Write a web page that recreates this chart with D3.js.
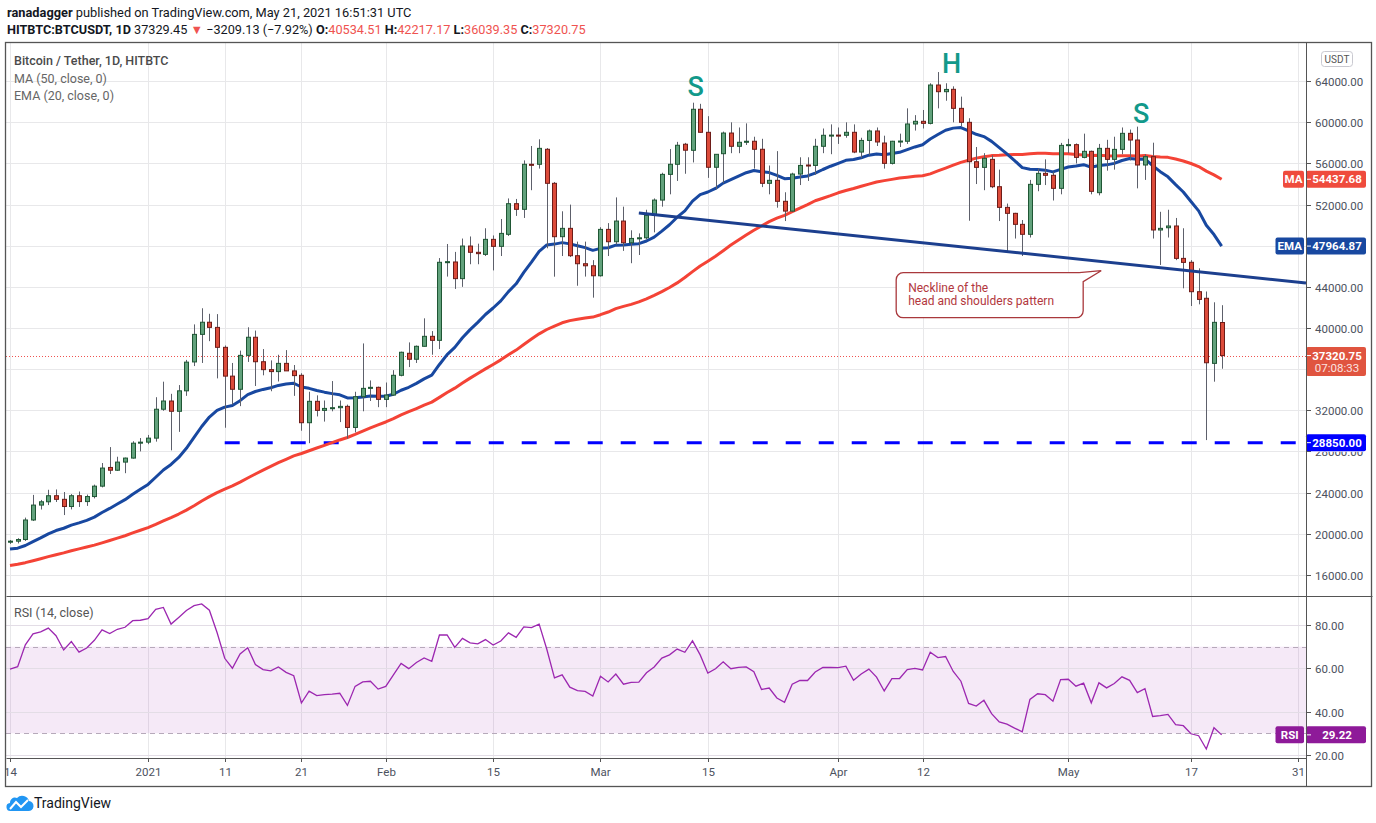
<!DOCTYPE html>
<html lang="en">

<head>
  <meta charset="utf-8">
  <title>Bitcoin / Tether, 1D, HITBTC</title>
  <script src="https://d3js.org/d3.v7.min.js"></script>
  <style>
    body { margin: 0; background: #ffffff; }
    svg text { font-family: Roboto, "Open Sans", sans-serif; }
  </style>
</head>

<body>
  <script type="text/javascript">
    // daily candles HITBTC:BTCUSDT, first candle 14 Dec 2020, last 21 May 2021
    var startDate = new Date(Date.UTC(2020, 11, 14));

    var opens = [
      19170, 19270, 19430, 21330, 22780, 23100, 23690, 23340, 22640, 23690,
      23120, 23610, 24620, 26440, 26170, 26960, 27350, 28800, 28900, 29290,
      32100, 32900, 31900, 33890, 36700, 39380, 40560, 40060, 38120, 35320,
      34040, 37340, 39100, 36720, 35950, 35760, 36560, 35830, 35400, 30790,
      32870, 31990, 32180, 32250, 32380, 30330, 33320, 34130, 34230, 33060,
      33480, 35400, 37540, 36960, 38220, 39190, 38800, 46390, 46420, 44800,
      47970, 47360, 47160, 48620, 47940, 49110, 52090, 51540, 55920, 55920,
      57380, 54070, 48880, 49690, 47030, 46250, 46050, 45080, 49590, 48390,
      50400, 48290, 48710, 48770, 50950, 52440, 54940, 55920, 57870, 57280,
      61270, 59030, 55630, 56950, 58960, 57670, 58060, 58160, 57380, 54070,
      54360, 52320, 51370, 54970, 55850, 55810, 57670, 58740, 58760, 58740,
      59030, 57110, 58240, 59160, 57990, 56010, 58160, 58160, 59840, 60100,
      59900, 63630, 62980, 63210, 61360, 60000, 56170, 55620, 56400, 53740,
      51730, 51150, 50080, 49110, 53970, 55040, 54850, 53580, 57760, 57830,
      56590, 57180, 53160, 57470, 56400, 57370, 58930, 58280, 55850, 56660,
      49530, 49750, 49920, 46770, 46390, 43530, 42890, 36560, 40534.51
    ];

    var highs = [
      19380, 19560, 21560, 23770, 23280, 24270, 24300, 24050, 23850, 24100,
      23800, 24770, 26870, 28420, 27480, 27400, 28990, 29300, 29600, 33270,
      34780, 33600, 34450, 36900, 40350, 41920, 41380, 41350, 38300, 36600,
      37800, 40070, 39750, 37950, 36850, 37400, 37850, 36400, 35600, 33800,
      33450, 32950, 34840, 32950, 32550, 33800, 38500, 34900, 34300, 34700,
      35900, 37700, 38600, 38300, 40940, 39700, 46800, 48170, 47400, 48700,
      48900, 48200, 49700, 49000, 50600, 52600, 52550, 56300, 57700, 58350,
      57500, 54200, 51350, 52000, 48400, 48400, 46600, 49800, 50200, 52700,
      51800, 49500, 49200, 51500, 52600, 55100, 57400, 58100, 58000, 61910,
      61800, 60600, 56900, 59100, 60000, 59500, 59900, 58600, 58400, 55800,
      57200, 53200, 55100, 56600, 56600, 58400, 59400, 59800, 59500, 60000,
      59800, 58500, 59300, 59500, 58700, 58200, 58900, 61360, 60700, 61200,
      63800, 64890, 63800, 63500, 62500, 60400, 57600, 57000, 56800, 55400,
      52100, 51200, 50500, 54400, 55500, 56400, 55200, 58000, 58400, 57950,
      58900, 57250, 57900, 58300, 58600, 59500, 59300, 59580, 56900, 58020,
      51300, 51500, 50700, 49700, 46600, 45800, 43550, 42500, 42217.17
    ];

    var lows = [
      19000, 19050, 19290, 21230, 22350, 22780, 23080, 21810, 22360, 22600,
      22700, 23430, 24500, 25800, 26100, 25880, 27300, 28000, 28700, 28950,
      31950, 28100, 29900, 33400, 36300, 36600, 38720, 35100, 30300, 32560,
      32400, 36700, 34360, 35400, 33850, 34800, 35900, 33400, 30010, 28800,
      31400, 30900, 31900, 30850, 29250, 29850, 31900, 32900, 32300, 32300,
      33400, 35300, 36200, 36600, 38200, 37400, 37950, 45000, 43800, 44000,
      46200, 46200, 47000, 45600, 47000, 48950, 50900, 50700, 53400, 55500,
      47750, 44990, 47000, 46900, 44110, 45000, 42950, 45000, 47000, 48100,
      47500, 46300, 47100, 48600, 49300, 51800, 53000, 54300, 55000, 56100,
      59000, 54600, 53500, 54100, 57000, 57000, 57800, 55500, 53700, 53000,
      51700, 50400, 51300, 53900, 54300, 54900, 57000, 56900, 57900, 58500,
      57000, 56500, 56800, 57700, 55500, 55900, 57600, 57900, 59200, 59400,
      59800, 61360, 62100, 60000, 59600, 50430, 54000, 53400, 53600, 50400,
      47420, 48700, 47000, 48800, 53300, 53900, 52400, 53000, 57000, 56000,
      56500, 53000, 52900, 55300, 55400, 56900, 56300, 53580, 54400, 48700,
      46130, 48800, 46600, 43860, 42140, 42300, 29100, 34780, 36039.35
    ];

    var closes = [
      19270, 19430, 21330, 22780, 23100, 23690, 23340, 22640, 23690, 23120,
      23610, 24620, 26380, 26170, 26960, 27350, 28800, 28900, 29290, 32100,
      32900, 31900, 33890, 36680, 39380, 40560, 40060, 38120, 35320, 34040,
      37340, 39100, 36720, 35950, 35760, 36560, 35830, 35370, 30790, 32870,
      31990, 32180, 32250, 32380, 30330, 33320, 34130, 34230, 33060, 33480,
      35400, 37640, 36960, 38220, 39190, 38800, 46390, 46450, 44800, 47970,
      47360, 47230, 48620, 47940, 49200, 52090, 51540, 55920, 55820, 57470,
      54070, 48880, 49690, 47030, 46250, 46050, 45080, 49590, 48390, 50400,
      48290, 48710, 48770, 50950, 52440, 54940, 55920, 57770, 57290, 61270,
      59030, 55630, 56890, 58960, 57670, 58060, 58160, 57380, 54070, 54360,
      52320, 51370, 54970, 55810, 55810, 57670, 58740, 58760, 58740, 59030,
      57110, 58240, 59160, 58090, 56010, 58160, 58180, 59840, 60100, 59900,
      63630, 62980, 63200, 61360, 60000, 56170, 55620, 56500, 53740, 51730,
      51150, 50080, 49110, 53970, 55040, 54850, 53580, 57760, 57830, 56590,
      57180, 53290, 57470, 56400, 57370, 58930, 58280, 55850, 56660, 49530,
      49690, 49920, 46770, 46380, 43530, 42780, 36620, 40550, 37320.75
    ];

    // closes 26 Oct - 13 Dec 2020 (left of the window), only warm up MA / EMA / RSI
    var priorCloses = [
      13070, 13650, 13280, 13460, 13560, 13800, 13760, 13550, 14030, 14150,
      15590, 15580, 14830, 15480, 15330, 15300, 15700, 16290, 16330, 16070,
      15960, 16720, 17650, 17800, 17820, 18680, 18700, 18420, 18370, 19160,
      18720, 17150, 17140, 17720, 18180, 19700, 18790, 19220, 19450, 18700,
      19150, 19370, 19170, 18320, 18550, 18250, 18040, 18800, 19170
    ];

    // readouts printed by the chart on the price scale
    var maReadout = "54437.68";
    var emaReadout = "47964.87";
    var rsiReadout = "29.22";
    var countdown = "07:08:33";

    // axis ticks
    var priceTicks = [16000, 20000, 24000, 28000, 32000, 36000, 40000, 44000,
      48000, 52000, 56000, 60000, 64000];
    var rsiTicks = [20, 40, 60, 80];
    var dateTicks = ["2020-12-14", "2021-01-01", "2021-01-11", "2021-01-21",
      "2021-02-01", "2021-02-15", "2021-03-01", "2021-03-15", "2021-04-01",
      "2021-04-12", "2021-05-01", "2021-05-17", "2021-05-31"];
    var dateTickLabels = ["14", "2021", "11", "21", "Feb", "15", "Mar", "15",
      "Apr", "12", "May", "17", "31"];

    // drawings on the chart
    var patternLabels = ["S", "H", "S"];
    var patternDates = ["2021-03-13T10:00Z", "2021-04-15T19:00Z", "2021-05-10T12:00Z"];
    var patternPrices = [62560, 64800, 59930];
    var necklineDates = ["2021-03-06", "2021-06-01"];
    var necklinePrices = [51180, 44380];
    var supportStart = "2021-01-11";
    var supportLevel = 28850;
    var noteDate = "2021-05-05T07:00Z";
    var notePrice = 45570;
    var noteLines = ["Neckline of the", "head and shoulders pattern"];

    // layout
    var dim = {
      "width": 1376,
      "height": 823,
      "left": 6,
      "top": 42,
      "plotRight": 1306,
      "right": 1372,
      "mainBottom": 596,
      "rsiBottom": 758,
      "bottom": 786
    };

    var parse = function(s) { return new Date(s.length == 10 ? s + "T00:00Z" : s); };
    var dates = d3.range(closes.length).map(function(i) {
      return d3.utcDay.offset(startDate, i);
    });

    // indicators: MA(50), EMA(20), RSI(14) on closes
    var allCloses = priorCloses.concat(closes);
    var offset = priorCloses.length;

    var ma = closes.map(function(c, i) {
      var k = i + offset;
      return d3.mean(allCloses.slice(k - 49, k + 1));
    });

    var emaAll = [];
    var alpha = 2 / 21;
    allCloses.forEach(function(c, k) {
      if (k < 19) { emaAll.push(null); }
      else if (k == 19) { emaAll.push(d3.mean(allCloses.slice(0, 20))); }
      else { emaAll.push(alpha * c + (1 - alpha) * emaAll[k - 1]); }
    });
    var ema = emaAll.slice(offset);

    var rsiAll = [null];
    var avgGain = 0, avgLoss = 0;
    for (var k = 1; k < allCloses.length; k++) {
      var ch = allCloses[k] - allCloses[k - 1];
      var g = Math.max(ch, 0), l = Math.max(-ch, 0);
      if (k <= 14) {
        avgGain += g / 14; avgLoss += l / 14;
        rsiAll.push(k == 14 ? 100 - 100 / (1 + avgGain / avgLoss) : null);
      } else {
        avgGain = (avgGain * 13 + g) / 14;
        avgLoss = (avgLoss * 13 + l) / 14;
        rsiAll.push(100 - 100 / (1 + avgGain / avgLoss));
      }
    }
    var rsi = rsiAll.slice(offset);

    // scales
    var xScale = d3.scaleUtc()
      .domain([startDate, parse("2021-06-01")])
      .range([10, dim.plotRight]);

    var yScale = d3.scaleLinear()
      .domain([16000, 64000])
      .range([574.8, 81.2]);

    var rsiScale = d3.scaleLinear()
      .domain([20, 80])
      .range([755, 625]);

    var svg = d3.select("body")
      .append("svg")
      .attr("width", dim.width)
      .attr("height", dim.height);

    var defs = svg.append("defs");
    defs.append("clipPath").attr("id", "clipMain")
      .append("rect")
      .attr("x", dim.left).attr("y", dim.top)
      .attr("width", dim.plotRight - dim.left)
      .attr("height", dim.mainBottom - dim.top);
    defs.append("clipPath").attr("id", "clipRsi")
      .append("rect")
      .attr("x", dim.left).attr("y", dim.mainBottom)
      .attr("width", dim.plotRight - dim.left)
      .attr("height", dim.rsiBottom - dim.mainBottom);

    // header
    var head1 = svg.append("text")
      .attr("x", 7).attr("y", 17)
      .style("font-size", "12.8px")
      .attr("fill", "#131722");
    head1.append("tspan").style("font-weight", "bold").text("ranadagger");
    head1.append("tspan").text(" published on TradingView.com, May 21, 2021 16:51:31 UTC");

    var head2 = svg.append("text")
      .attr("x", 7).attr("y", 34)
      .style("font-size", "12.7px")
      .attr("fill", "#131722");
    head2.append("tspan").style("font-weight", "bold").text("HITBTC:BTCUSDT, 1D");
    head2.append("tspan").text(" 37329.45 ");
    head2.append("tspan").attr("fill", "#ef5350").text("\u25BC");
    head2.append("tspan").text(" \u22123209.13 (\u22127.92%) ");
    [["O:", "40534.51"], ["H:", "42217.17"], ["L:", "36039.35"], ["C:", "37320.75"]]
      .forEach(function(p, i) {
        head2.append("tspan").style("font-weight", "bold").text((i ? " " : "") + p[0]);
        head2.append("tspan").attr("fill", "#ef5350").text(p[1]);
      });

    // grid
    var grid = svg.append("g").attr("class", "grid");
    grid.selectAll("line.h")
      .data(priceTicks)
      .enter()
      .append("line")
      .attr("x1", dim.left).attr("x2", dim.plotRight)
      .attr("y1", function(d) { return Math.round(yScale(d)) + 0.5; })
      .attr("y2", function(d) { return Math.round(yScale(d)) + 0.5; })
      .attr("stroke", "#e8e8ea");
    grid.selectAll("line.v")
      .data(dateTicks)
      .enter()
      .append("line")
      .attr("x1", function(d) { return Math.round(xScale(parse(d))) + 0.5; })
      .attr("x2", function(d) { return Math.round(xScale(parse(d))) + 0.5; })
      .attr("y1", dim.top).attr("y2", dim.rsiBottom)
      .attr("stroke", "#e8e8ea");

    // rsi band and grid
    svg.append("rect")
      .attr("x", dim.left).attr("width", dim.plotRight - dim.left)
      .attr("y", rsiScale(70)).attr("height", rsiScale(30) - rsiScale(70))
      .attr("fill", "#9c27b0").attr("fill-opacity", 0.1);
    svg.selectAll("line.rsigrid")
      .data(rsiTicks)
      .enter()
      .append("line")
      .attr("x1", dim.left).attr("x2", dim.plotRight)
      .attr("y1", function(d) { return Math.round(rsiScale(d)) + 0.5; })
      .attr("y2", function(d) { return Math.round(rsiScale(d)) + 0.5; })
      .attr("stroke", "#e3dde6");
    svg.selectAll("line.rsiband")
      .data([30, 70])
      .enter()
      .append("line")
      .attr("x1", dim.left).attr("x2", dim.plotRight)
      .attr("y1", function(d) { return Math.round(rsiScale(d)) + 0.5; })
      .attr("y2", function(d) { return Math.round(rsiScale(d)) + 0.5; })
      .attr("stroke", "#b6a9ba")
      .attr("stroke-dasharray", "5,4");

    var main = svg.append("g").attr("clip-path", "url(#clipMain)");

    // current price dotted line
    main.append("line")
      .attr("x1", dim.left).attr("x2", dim.plotRight)
      .attr("y1", Math.round(yScale(closes[closes.length - 1])) + 0.5)
      .attr("y2", Math.round(yScale(closes[closes.length - 1])) + 0.5)
      .attr("stroke", "#ef5350")
      .attr("stroke-dasharray", "1,2");

    // support level 28850
    main.append("line")
      .attr("x1", xScale(parse(supportStart))).attr("x2", dim.plotRight)
      .attr("y1", yScale(supportLevel)).attr("y2", yScale(supportLevel))
      .attr("stroke", "#0000ff")
      .attr("stroke-width", 3)
      .attr("stroke-dasharray", "15,18");

    // moving averages
    var maLine = d3.line()
      .x(function(d, i) { return xScale(dates[i]); })
      .y(function(d) { return yScale(d); });

    main.append("path")
      .datum(ma)
      .attr("d", maLine)
      .attr("fill", "none")
      .attr("stroke", "#f44336")
      .attr("stroke-width", 3)
      .attr("stroke-linejoin", "round");

    main.append("path")
      .datum(ema)
      .attr("d", maLine)
      .attr("fill", "none")
      .attr("stroke", "#1848a0")
      .attr("stroke-width", 3)
      .attr("stroke-linejoin", "round");

    // candles
    var candles = main.selectAll("g.candle")
      .data(closes)
      .enter()
      .append("g")
      .attr("class", "candle");

    candles.append("line")
      .attr("x1", function(d, i) { return Math.round(xScale(dates[i])) + 0.5; })
      .attr("x2", function(d, i) { return Math.round(xScale(dates[i])) + 0.5; })
      .attr("y1", function(d, i) { return yScale(highs[i]); })
      .attr("y2", function(d, i) { return yScale(lows[i]); })
      .attr("stroke", "#5d606b");

    candles.append("rect")
      .attr("x", function(d, i) { return Math.round(xScale(dates[i])) - 1.5; })
      .attr("width", 4)
      .attr("y", function(d, i) { return yScale(Math.max(opens[i], d)); })
      .attr("height", function(d, i) {
        return Math.max(1, Math.abs(yScale(opens[i]) - yScale(d)));
      })
      .attr("fill", function(d, i) { return d >= opens[i] ? "#62a27c" : "#dc4b3a"; })
      .attr("stroke", function(d, i) { return d >= opens[i] ? "#1f5634" : "#6e1c18"; })
      .attr("stroke-width", 1);

    // neckline
    main.append("line")
      .attr("x1", xScale(parse(necklineDates[0])))
      .attr("y1", yScale(necklinePrices[0]))
      .attr("x2", xScale(parse(necklineDates[1])))
      .attr("y2", yScale(necklinePrices[1]))
      .attr("stroke", "#1c3f8e")
      .attr("stroke-width", 3);

    // S H S labels
    main.selectAll("text.pattern")
      .data(patternLabels)
      .enter()
      .append("text")
      .attr("x", function(d, i) { return xScale(parse(patternDates[i])); })
      .attr("y", function(d, i) { return yScale(patternPrices[i]); })
      .attr("text-anchor", "middle")
      .style("font-size", "27px")
      .style("font-weight", "500")
      .attr("fill", "#12998a")
      .text(function(d) { return d; });

    // callout for the neckline
    var tipX = xScale(parse(noteDate)), tipY = yScale(notePrice);
    var bx0 = tipX - 205, bx1 = tipX - 18, by0 = tipY + 2, by1 = tipY + 47, r = 7;
    var callout = d3.path();
    callout.moveTo(bx0 + r, by0);
    callout.lineTo(bx1 - 4, by0);
    callout.lineTo(tipX, tipY);
    callout.lineTo(bx1, by0 + 9);
    callout.lineTo(bx1, by1 - r);
    callout.arcTo(bx1, by1, bx1 - r, by1, r);
    callout.lineTo(bx0 + r, by1);
    callout.arcTo(bx0, by1, bx0, by1 - r, r);
    callout.lineTo(bx0, by0 + r);
    callout.arcTo(bx0, by0, bx0 + r, by0, r);
    callout.closePath();
    main.append("path")
      .attr("d", callout.toString())
      .attr("fill", "#ffffff")
      .attr("stroke", "#a9383c")
      .attr("stroke-width", 1.3);
    main.selectAll("text.note")
      .data(noteLines)
      .enter()
      .append("text")
      .attr("x", bx0 + 12)
      .attr("y", function(d, i) { return by0 + 19 + i * 13; })
      .style("font-size", "12px")
      .attr("fill", "#b2373d")
      .text(function(d) { return d; });

    // rsi line
    svg.append("path")
      .datum(rsi)
      .attr("clip-path", "url(#clipRsi)")
      .attr("d", d3.line()
        .x(function(d, i) { return xScale(dates[i]); })
        .y(function(d) { return rsiScale(d); }))
      .attr("fill", "none")
      .attr("stroke", "#9c27b0")
      .attr("stroke-width", 1.3);

    // legends
    var legend = [
      ["Bitcoin / Tether, 1D, HITBTC", 65, "#4a4a4a"],
      ["MA (50, close, 0)", 83, "#666666"],
      ["EMA (20, close, 0)", 100, "#666666"],
      ["RSI (14, close)", 617, "#555555"]
    ];
    svg.selectAll("text.legend")
      .data(legend)
      .enter()
      .append("text")
      .attr("x", 14)
      .attr("y", function(d) { return d[1]; })
      .style("font-size", "12.5px")
      .style("font-weight", function(d, i) { return i == 0 ? "500" : "normal"; })
      .attr("fill", function(d) { return d[2]; })
      .text(function(d) { return d[0]; });

    var last = closes.length - 1;
    // boxes drawn on the price scale: [y, colour, label, value, second line]
    var boxes = [
      [yScale(ma[last]), "#ef4b3d", "MA", maReadout, null],
      [yScale(ema[last]), "#1848a0", "EMA", emaReadout, null],
      [yScale(closes[last]), "#e0543f", null, d3.format(".2f")(closes[last]), countdown],
      [yScale(supportLevel), "#0000ff", null, d3.format(".2f")(supportLevel), null],
      [rsiScale(rsi[last]), "#8e1a99", "RSI", rsiReadout, null]
    ];

    // price axis; a label fully under a box is hidden in the chart, a label
    // partly under one only shows the part below it
    var boxBottom = function(y) {
      var hit = null;
      boxes.forEach(function(b) {
        var t = b[0] - 8.5, bt = b[0] + (b[4] ? 20.5 : 8.5);
        if (y + 5 > t && y - 5 < bt) hit = bt;
      });
      return hit;
    };
    var priceAxis = svg.append("g").attr("class", "axis");
    function axisLabels(ticks, scale) {
      ticks.forEach(function(t) {
        var y = Math.round(scale(t)) + 0.5;
        priceAxis.append("line")
          .attr("x1", dim.plotRight).attr("x2", dim.plotRight + 5)
          .attr("y1", y).attr("y2", y)
          .attr("stroke", "#555");
        var bottom = boxBottom(y);
        if (bottom !== null && bottom > y) return;
        var label = priceAxis.append("text")
          .attr("x", 1315).attr("y", y + 4)
          .style("font-size", "11.5px")
          .attr("fill", "#4c525e")
          .text(d3.format(".2f")(t));
        if (bottom !== null) {
          var id = "cut" + t;
          defs.append("clipPath").attr("id", id)
            .append("rect")
            .attr("x", dim.plotRight).attr("y", bottom + 0.5)
            .attr("width", 66).attr("height", 20);
          label.attr("clip-path", "url(#" + id + ")");
        }
      });
    }
    axisLabels(priceTicks, yScale);
    axisLabels(rsiTicks, rsiScale);

    // USDT badge
    svg.append("rect")
      .attr("x", 1321.5).attr("y", 51.5).attr("width", 31).attr("height", 15)
      .attr("rx", 3)
      .attr("fill", "#fff").attr("stroke", "#c9c9d0");
    svg.append("text")
      .attr("x", 1337).attr("y", 62.5)
      .attr("text-anchor", "middle")
      .style("font-size", "10px")
      .attr("fill", "#555")
      .text("USDT");

    // value boxes on the price axis
    boxes.forEach(function(b) {
      var y = b[0], color = b[1], label = b[2], value = b[3], extra = b[4];
      var h = extra ? 29 : 17;
      var top = y - 8.5;
      svg.append("rect")
        .attr("x", dim.plotRight).attr("y", top)
        .attr("width", 60).attr("height", h)
        .attr("rx", 2)
        .attr("fill", color);
      svg.append("line")
        .attr("x1", dim.plotRight).attr("x2", dim.plotRight + 5)
        .attr("y1", y).attr("y2", y)
        .attr("stroke", "#fff");
      svg.append("text")
        .attr("x", 1337).attr("y", y + 4)
        .attr("text-anchor", "middle")
        .style("font-size", "11.5px")
        .style("font-weight", "bold")
        .attr("fill", "#fff")
        .text(value);
      if (extra) {
        svg.append("text")
          .attr("x", 1337).attr("y", y + 16)
          .attr("text-anchor", "middle")
          .style("font-size", "11.5px")
          .attr("fill", "#fbe3e0")
          .text(extra);
      }
      if (label) {
        var w = label.length * 7.5 + 6;
        svg.append("rect")
          .attr("x", dim.plotRight - 2 - w).attr("y", top)
          .attr("width", w).attr("height", h)
          .attr("rx", 2)
          .attr("fill", color);
        svg.append("text")
          .attr("x", dim.plotRight - 2 - w / 2).attr("y", y + 4)
          .attr("text-anchor", "middle")
          .style("font-size", "11.5px")
          .style("font-weight", "bold")
          .attr("fill", "#fff")
          .text(label);
      }
    });

    // time axis
    var timeAxis = svg.append("g").attr("class", "axis");
    dateTicks.forEach(function(d, i) {
      var x = Math.round(xScale(parse(d))) + 0.5;
      timeAxis.append("line")
        .attr("x1", x).attr("x2", x)
        .attr("y1", dim.rsiBottom).attr("y2", dim.rsiBottom + 4)
        .attr("stroke", "#555");
      timeAxis.append("text")
        .attr("x", x).attr("y", 776)
        .attr("text-anchor", "middle")
        .style("font-size", "11.5px")
        .attr("fill", "#4c525e")
        .text(dateTickLabels[i]);
    });

    // white strip left of frame hides the cut tick label
    svg.append("rect")
      .attr("x", 0).attr("y", dim.top).attr("width", dim.left).attr("height", dim.bottom - dim.top)
      .attr("fill", "#fff");

    // frame and pane separators
    svg.append("rect")
      .attr("x", dim.left - 0.5).attr("y", dim.top + 0.5)
      .attr("width", dim.right - dim.left).attr("height", dim.bottom - dim.top)
      .attr("fill", "none")
      .attr("stroke", "#555")
      .attr("stroke-width", 1.3);
    [[dim.left, dim.right, dim.mainBottom, dim.mainBottom],
     [dim.left, dim.plotRight, dim.rsiBottom, dim.rsiBottom],
     [dim.plotRight, dim.plotRight, dim.top, dim.bottom]].forEach(function(s) {
      svg.append("line")
        .attr("x1", s[0] + 0.5).attr("x2", s[1] + 0.5)
        .attr("y1", s[2] + 0.5).attr("y2", s[3] + 0.5)
        .attr("stroke", "#555");
    });

    // TradingView logo
    var logo = svg.append("g").attr("transform", "translate(6,794)");
    logo.append("path")
      .attr("d", "M5,17 H22 A5,5 0 0 0 23,7 A7,7 0 0 0 11,4 A5,5 0 0 0 4,9 A4,4 0 0 0 5,17 Z")
      .attr("fill", "#2196f3");
    logo.append("polyline")
      .attr("points", "4,15 10,8 15,13 22,6")
      .attr("fill", "none")
      .attr("stroke", "#fff")
      .attr("stroke-width", 2);
    svg.append("text")
      .attr("x", 34).attr("y", 808)
      .style("font-size", "14px")
      .attr("fill", "#131722")
      .text("TradingView");
  </script>
</body>

</html>
